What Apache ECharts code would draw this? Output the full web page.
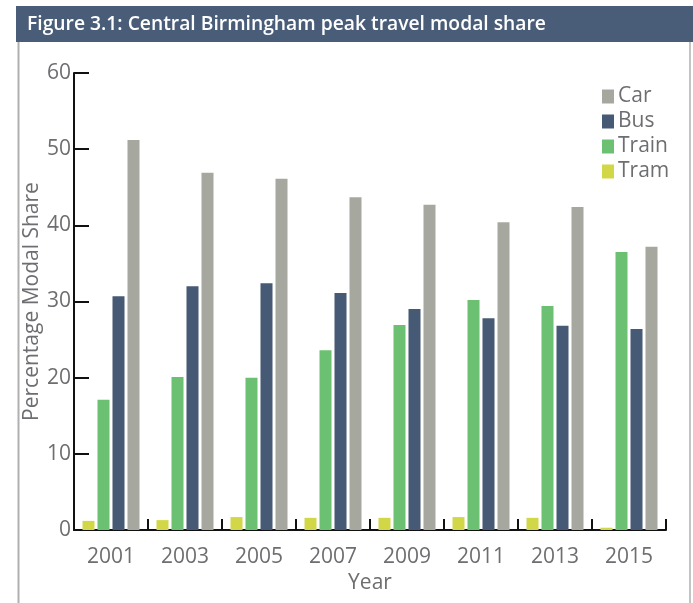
<!DOCTYPE html>
<html>
<head>
<meta charset="utf-8">
<script src="https://cdn.jsdelivr.net/npm/echarts@6/dist/echarts.min.js"></script>
<style>html,body{margin:0;padding:0;background:#fff}#c{width:693px;height:603px}</style>
</head>
<body>
<div id="c"></div>
<script>
const years = ['2001','2003','2005','2007','2009','2011','2013','2015'];
const tram  = [1.2, 1.3, 1.7, 1.6, 1.6, 1.7, 1.6, 0.3];
const train = [17.1, 20.1, 20.0, 23.6, 26.9, 30.2, 29.4, 36.5];
const bus   = [30.7, 32.0, 32.4, 31.1, 29.0, 27.8, 26.8, 26.4];
const car   = [51.2, 46.9, 46.1, 43.7, 42.7, 40.4, 42.4, 37.2];
const yTicks = [0, 10, 20, 30, 40, 50, 60];

const FONT = '"Open Sans", "Noto Sans", sans-serif';
const TXT = '#6d6e71';
const colors = {Car:'#a6a8a0', Bus:'#475a75', Train:'#6bc072', Tram:'#d2d748'};

const chart = echarts.init(document.getElementById('c'));
const mk = (name, data) => ({
  name, type:'bar', data, barWidth:12, barGap:'25%',
  itemStyle:{color:colors[name]}, emphasis:{disabled:true}, animation:false
});
chart.setOption({
  animation:false,
  textStyle:{fontFamily:FONT},
  graphic:[
    {type:'rect', shape:{x:16,y:6,width:677,height:36}, style:{fill:'#4a5d78'}, z:10},
    {type:'text', x:27, y:25, style:{text:'Figure 3.1: Central Birmingham peak travel modal share', fill:'#fff', font:'600 19.3px '+FONT, textVerticalAlign:'middle'}, z:11},
    {type:'line', shape:{x1:18.5,y1:42,x2:18.5,y2:603}, style:{stroke:'#b0b0b0', lineWidth:2}},
    {type:'line', shape:{x1:690,y1:42,x2:690,y2:603}, style:{stroke:'#b0b0b0', lineWidth:1.5}}
  ],
  legend:{
    data:['Car','Bus','Train','Tram'], orient:'vertical', left:602, top:86, padding:0,
    itemWidth:12, itemHeight:14, itemGap:4, icon:'rect',
    textStyle:{fontSize:21, lineHeight:20, color:TXT, fontFamily:FONT, padding:[0,0,0,-1]}
  },
  grid:{left:74, right:27, top:73, bottom:73, containLabel:false},
  xAxis:{
    type:'category', data:years,
    name:'Year', nameLocation:'middle', nameGap:42,
    nameTextStyle:{fontSize:21, color:TXT, fontFamily:FONT},
    axisLine:{lineStyle:{color:'#111', width:2}},
    axisTick:{show:true, inside:true, length:11, alignWithLabel:false, lineStyle:{color:'#111', width:2}},
    axisLabel:{fontSize:21, color:TXT, margin:17, fontFamily:FONT}
  },
  yAxis:{
    type:'value', min:0, max:60, interval:10,
    name:'Percentage Modal Share', nameLocation:'middle', nameGap:31, nameMoveOverlap:false,
    nameTextStyle:{fontSize:21, color:TXT, fontFamily:FONT},
    axisLine:{show:true, lineStyle:{color:'#111', width:2}},
    axisTick:{show:true, inside:true, length:15, lineStyle:{color:'#111', width:2}},
    axisLabel:{fontSize:21, color:TXT, margin:3, fontFamily:FONT,
      formatter:v => yTicks.includes(v) ? String(v) : ''},
    splitLine:{show:false}
  },
  series:[mk('Tram',tram), mk('Train',train), mk('Bus',bus), mk('Car',car)]
});
</script>
</body>
</html>
